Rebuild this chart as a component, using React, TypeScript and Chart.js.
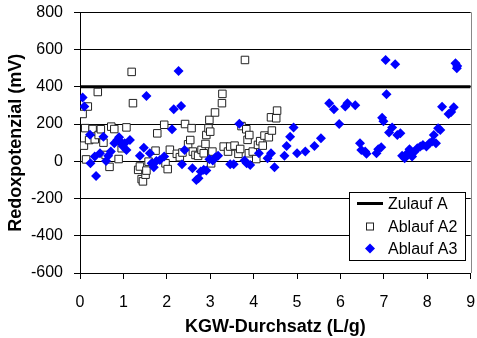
import React, { useEffect, useRef } from "react";
import { Chart, registerables } from "chart.js";

Chart.register(...registerables);

const zulaufX = [0, 9];
const zulaufY = [400, 400];

const a2X = [0.06, 0.09, 0.12, 0.14, 0.18, 0.21, 0.29, 0.34, 0.41, 0.43, 0.48, 0.54, 0.59, 0.68, 0.72, 0.79, 0.89, 0.96, 1.07, 1.19, 1.22, 1.34, 1.38, 1.42, 1.45, 1.51, 1.53, 1.58, 1.74, 1.78, 1.94, 1.97, 2.02, 2.07, 2.23, 2.30, 2.36, 2.42, 2.49, 2.54, 2.57, 2.60, 2.66, 2.72, 2.80, 2.85, 2.89, 2.91, 2.96, 2.98, 3.00, 3.02, 3.05, 3.11, 3.27, 3.28, 3.31, 3.41, 3.46, 3.56, 3.65, 3.69, 3.72, 3.80, 3.83, 3.86, 3.90, 3.89, 3.98, 4.06, 4.10, 4.15, 4.21, 4.25, 4.35, 4.40, 4.42, 4.52, 4.54];
const a2Y = [254, 84, 178, 10, 294, 114, 173, 118, 372, 141, 172, 100, 34, -30, 186, 173, 12, 70, 182, 480, 312, -46, -28, -96, -108, -72, -50, -2, 57, 150, 196, -11, -42, 62, 40, 22, 47, 200, 91, 114, 178, 52, 34, 29, 61, 43, 93, 141, 177, 222, 159, -11, 52, 262, 312, 362, 79, 52, 79, 84, 40, 66, 189, 544, 172, 115, 141, 43, 52, 12, 88, 108, 84, 138, 129, 236, 165, 231, 272];

const a3X = [0.06, 0.10, 0.23, 0.24, 0.34, 0.37, 0.46, 0.54, 0.60, 0.65, 0.71, 0.79, 0.86, 0.90, 0.93, 0.98, 1.03, 1.07, 1.15, 1.38, 1.47, 1.53, 1.61, 1.65, 1.70, 1.76, 1.84, 1.94, 2.12, 2.16, 2.27, 2.33, 2.35, 2.41, 2.59, 2.68, 2.73, 2.78, 2.85, 2.91, 2.98, 3.06, 3.12, 3.18, 3.46, 3.54, 3.67, 3.79, 3.84, 3.92, 4.12, 4.32, 4.40, 4.48, 4.71, 4.76, 4.84, 4.92, 5.00, 5.19, 5.40, 5.55, 5.74, 5.85, 5.97, 6.11, 6.16, 6.34, 6.45, 6.48, 6.57, 6.60, 6.83, 6.87, 6.94, 6.96, 6.99, 7.04, 7.06, 7.12, 7.19, 7.26, 7.31, 7.38, 7.42, 7.48, 7.54, 7.59, 7.65, 7.71, 7.77, 7.84, 7.90, 7.98, 8.05, 8.11, 8.15, 8.20, 8.25, 8.30, 8.34, 8.49, 8.55, 8.61, 8.65, 8.68, 8.69];
const a3Y = [342, 294, 143, -11, 25, -79, 43, 132, 2, 30, 52, 97, 114, 129, 106, 82, 97, 61, 114, 29, 73, 350, 43, -11, -32, 2, 7, 25, 172, 279, 485, 297, -16, 61, -37, -100, -91, -55, -46, -50, 11, 4, 22, 29, -16, -16, 202, 4, -11, -20, 43, 16, 43, -32, 30, 82, 132, 182, 43, 52, 82, 123, 311, 279, 200, 294, 311, 301, 97, 61, 52, 40, 43, 64, 75, 234, 215, 544, 360, 154, 182, 521, 141, 150, 29, 16, 43, 64, 25, 52, 70, 79, 88, 79, 97, 106, 141, 97, 177, 168, 293, 254, 265, 290, 526, 499, 512];

const yTicks = [-600, -400, -200, 0, 200, 400, 600, 800];
const xTicks = [0, 1, 2, 3, 4, 5, 6, 7, 8, 9];

const legendLabels = ["Zulauf A", "Ablauf A2", "Ablauf A3"];

const FONT = "Arial, 'Liberation Sans', sans-serif";

const legendPlugin = {
  id: "customLegend",
  afterDraw(chart: any) {
    const ctx = chart.ctx;
    ctx.save();
    const bx = 349.5, by = 192.5, bw = 116, bh = 68;
    ctx.fillStyle = "#ffffff";
    ctx.fillRect(bx, by, bw, bh);
    ctx.strokeStyle = "#000000";
    ctx.lineWidth = 1;
    ctx.strokeRect(bx, by, bw, bh);
    ctx.font = "16px " + FONT;
    ctx.textBaseline = "middle";
    const rows = [203.5, 226.5, 248.5];
    ctx.beginPath();
    ctx.lineWidth = 3;
    ctx.moveTo(357, rows[0]);
    ctx.lineTo(383, rows[0]);
    ctx.stroke();
    ctx.lineWidth = 1;
    ctx.strokeStyle = "#222";
    ctx.fillStyle = "#fff";
    ctx.fillRect(366.5, rows[1] - 3.5, 7, 7);
    ctx.strokeRect(366.5, rows[1] - 3.5, 7, 7);
    ctx.fillStyle = "#0000ff";
    ctx.beginPath();
    ctx.moveTo(370, rows[2] - 5);
    ctx.lineTo(375, rows[2]);
    ctx.lineTo(370, rows[2] + 5);
    ctx.lineTo(365, rows[2]);
    ctx.closePath();
    ctx.fill();
    ctx.fillStyle = "#000";
    legendLabels.forEach((t, i) => ctx.fillText(t, 388, rows[i] + 1));
    ctx.restore();
  },
};

const borderPlugin = {
  id: "rightBorder",
  beforeDatasetsDraw(chart: any) {
    const { ctx, chartArea } = chart;
    ctx.save();
    ctx.strokeStyle = "#888888";
    ctx.lineWidth = 1;
    ctx.beginPath();
    ctx.moveTo(Math.round(chartArea.right) + 0.5, chartArea.top);
    ctx.lineTo(Math.round(chartArea.right) + 0.5, chartArea.bottom);
    ctx.stroke();
    ctx.restore();
  },
};

export default function App() {
  const ref = useRef<HTMLCanvasElement>(null);
  useEffect(() => {
    if (!ref.current) return;
    const chart = new Chart(ref.current, {
      type: "scatter",
      data: {
        datasets: [
          {
            label: legendLabels[2],
            data: a3X.map((x, i) => ({ x, y: a3Y[i] })),
            pointStyle: "rectRot",
            pointRadius: 5,
            backgroundColor: "#0000ff",
            borderColor: "#0000ff",
            borderWidth: 0,
            order: 0,
          },
          {
            label: legendLabels[1],
            data: a2X.map((x, i) => ({ x, y: a2Y[i] })),
            pointStyle: "rect",
            pointRadius: 5.3,
            backgroundColor: "#ffffff",
            borderColor: "#222222",
            borderWidth: 1,
            order: 1,
          },
          {
            type: "line",
            label: legendLabels[0],
            data: zulaufX.map((x, i) => ({ x, y: zulaufY[i] })),
            borderColor: "#000000",
            borderWidth: 3,
            pointRadius: 0,
            showLine: true,
            order: 2,
          } as any,
        ],
      },
      options: {
        responsive: false,
        animation: false,
        layout: { padding: { top: 12.3, right: 5, left: 0, bottom: 0 } },
        plugins: { legend: { display: false }, tooltip: { enabled: false } },
        scales: {
          x: {
            type: "linear",
            min: 0,
            max: 9,
            afterFit: (s: any) => {
              s.height = 65;
              s.paddingLeft = 0;
              s.paddingRight = 0;
            },
            afterBuildTicks: (s: any) => { s.ticks = xTicks.map((v) => ({ value: v })); },
            grid: { drawOnChartArea: false, drawTicks: true, tickLength: 6, color: "#000" },
            border: { color: "#000", width: 1 },
            ticks: { color: "#000", font: { family: FONT, size: 16 }, padding: 14, maxRotation: 0 },
            title: {
              display: true,
              text: "KGW-Durchsatz (L/g)",
              color: "#000",
              font: { family: FONT, size: 18, weight: "bold" },
              padding: { top: 0, bottom: 0 },
            },
          },
          y: {
            type: "linear",
            min: -600,
            max: 800,
            afterFit: (s: any) => {
              s.width = 80;
              s.paddingTop = 0;
              s.paddingBottom = 0;
            },
            afterBuildTicks: (s: any) => { s.ticks = yTicks.map((v) => ({ value: v })); },
            grid: { color: "#000", lineWidth: 1, tickLength: 6 },
            border: { color: "#000", width: 1 },
            ticks: { color: "#000", font: { family: FONT, size: 16 }, padding: 11 },
            title: {
              display: true,
              text: "Redoxpotenzial (mV)",
              color: "#000",
              font: { family: FONT, size: 18, weight: "bold" },
              padding: { top: 5, bottom: 0 },
            },
          },
        },
      },
      plugins: [borderPlugin, legendPlugin],
    });
    return () => chart.destroy();
  }, []);
  return (
    <div style={{ position: "fixed", left: 0, top: 0, width: 477, height: 338, background: "#fff" }}>
      <canvas ref={ref} width={477} height={338} style={{ width: 477, height: 338 }} />
    </div>
  );
}
